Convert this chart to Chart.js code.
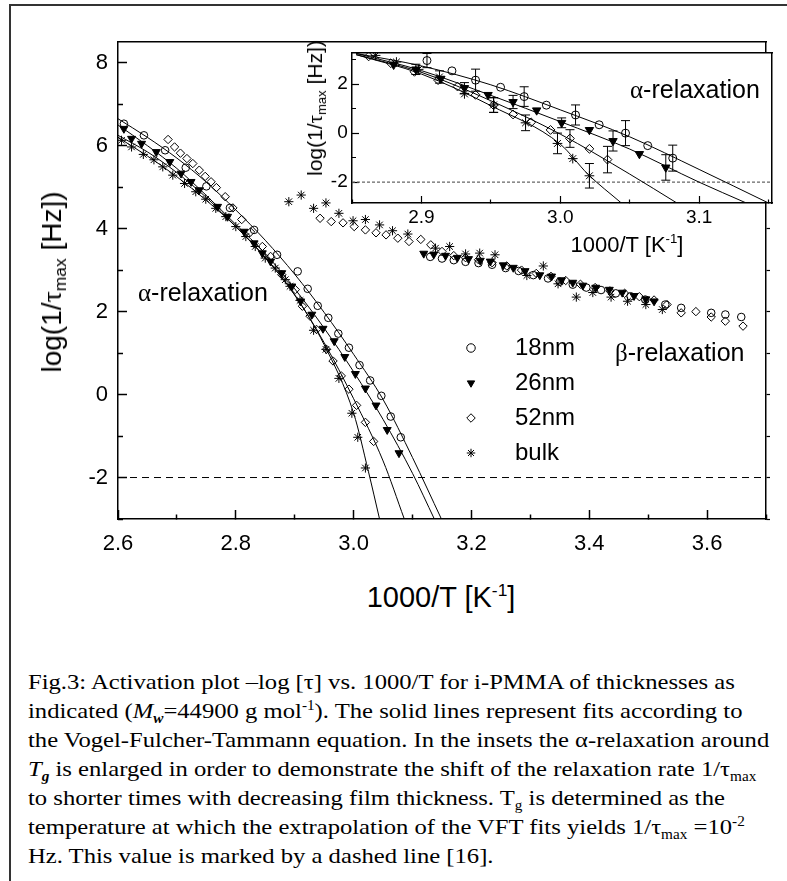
<!DOCTYPE html>
<html>
<head>
<meta charset="utf-8">
<script src="https://cdn.jsdelivr.net/npm/chart.js@4/dist/chart.umd.min.js"></script>
<style>
  body { margin: 0; background: #fff; width: 787px; height: 881px; position: relative; overflow: hidden;
         font-family: "Liberation Sans", Arial, sans-serif; color: #000; }
  .frame { position: absolute; left: 9px; top: 4px; width: 2000px; height: 2000px; border: 2px solid #333; }
  canvas { position: absolute; }
  #mainChart { left: 0; top: 0; z-index: 1; }
  #insetChart { left: 280px; top: 30px; z-index: 2; }
  #legendChart { left: 448px; top: 325px; z-index: 3; }
  .lbl { position: absolute; white-space: nowrap; line-height: 1; z-index: 4; }
  .rot { transform: translate(-50%, -50%) rotate(-90deg); }
  .ctr { transform: translate(-50%, -50%); }
  .gr { font-family: "Liberation Serif", "Times New Roman", serif; }
  .sb { font-size: 0.62em; position: relative; top: 0.3em; }
  .sp { font-size: 0.6em; position: relative; top: -0.65em; }
  .caption { position: absolute; left: 28px; top: 667px; z-index: 4; transform: scaleX(1.12); transform-origin: 0 0;
             font-family: "Liberation Serif", "Times New Roman", serif; font-size: 22px; line-height: 29px; }
  .caption div { white-space: nowrap; }
  .caption sub, .caption sup { font-size: 0.62em; line-height: 0; }
</style>
</head>
<body>
<div class="frame"></div>
<canvas id="mainChart" width="787" height="560"></canvas>
<canvas id="insetChart" width="507" height="240"></canvas>
<canvas id="legendChart" width="300" height="180"></canvas>

<div class="lbl rot" style="left:52px; top:282px; font-size:28px;">log(1/<span class="gr">τ</span><span class="sb">max</span> [Hz])</div>
<div class="lbl ctr" style="left:441px; top:597px; font-size:29px;">1000/T [K<span class="sp">-1</span>]</div>
<div class="lbl rot" style="left:315px; top:108px; font-size:21px;">log(1/<span class="gr">τ</span><span class="sb">max</span> [Hz])</div>
<div class="lbl ctr" style="left:627px; top:245px; font-size:22px;">1000/T [K<span class="sp">-1</span>]</div>
<div class="lbl" style="left:138px; top:280px; font-size:25px;"><span class="gr">α</span>-relaxation</div>
<div class="lbl" style="left:615px; top:340px; font-size:25px;"><span class="gr">β</span>-relaxation</div>
<div class="lbl" style="left:630px; top:77px; font-size:25px;"><span class="gr">α</span>-relaxation</div>

<div class="caption">
  <div>Fig.3: Activation plot –log [τ] vs. 1000/T for i-PMMA of thicknesses as</div>
  <div>indicated (<i>M<sub><b>w</b></sub></i>=44900 g mol<sup>-1</sup>). The solid lines represent fits according to</div>
  <div>the Vogel-Fulcher-Tammann equation. In the insets the α-relaxation around</div>
  <div><i>T<sub><b>g</b></sub></i> is enlarged in order to demonstrate the shift of the relaxation rate 1/τ<sub>max</sub></div>
  <div>to shorter times with decreasing film thickness. T<sub>g</sub> is determined as the</div>
  <div>temperature at which the extrapolation of the VFT fits yields 1/τ<sub>max</sub> =10<sup>-2</sup></div>
  <div>Hz. This value is marked by a dashed line [16].</div>
</div>

<script>
// ---------------------------------------------------------------- DATA ----------------------------------------------------------------
const xMin = 2.6, xMax = 3.7, yMin = -3, yMax = 8.5;
const inXMin = 2.85, inXMax = 3.1525, inYMin = -2.85, inYMax = 3.28;
const tgLevel = -2;
const sampleNames = ['18nm', '26nm', '52nm', 'bulk'];

// alpha-relaxation, main plot
const alpha18X = [2.610, 2.644, 2.680, 2.715, 2.750, 2.790, 2.831, 2.870, 2.905, 2.922, 2.939, 2.957, 2.974, 2.992, 3.010, 3.028, 3.047, 3.063, 3.080];
const alpha18Y = [6.53, 6.25, 5.89, 5.47, 5.02, 4.50, 3.97, 3.37, 2.97, 2.55, 2.14, 1.85, 1.47, 1.13, 0.71, 0.34, -0.03, -0.53, -1.03];
const alpha26X = [2.610, 2.623, 2.640, 2.665, 2.688, 2.707, 2.724, 2.738, 2.769, 2.786, 2.814, 2.831, 2.845, 2.859, 2.878, 2.895, 2.910, 2.929, 2.948, 2.967, 2.985, 3.003, 3.020, 3.038, 3.057, 3.077];
const alpha26Y = [6.41, 6.17, 6.05, 5.85, 5.61, 5.33, 5.13, 4.93, 4.53, 4.29, 3.93, 3.65, 3.41, 3.21, 2.93, 2.61, 2.25, 1.93, 1.59, 1.29, 0.91, 0.50, 0.15, -0.26, -0.85, -1.41];
const alpha52X = [2.685, 2.696, 2.706, 2.717, 2.727, 2.738, 2.748, 2.758, 2.767, 2.782, 2.795, 2.810, 2.825, 2.845, 2.859, 2.878, 2.901, 2.913, 2.926, 2.937, 2.954, 2.965, 2.979, 2.992, 3.005, 3.020, 3.034];
const alpha52Y = [6.15, 5.97, 5.82, 5.69, 5.57, 5.41, 5.26, 5.13, 4.99, 4.77, 4.50, 4.22, 3.92, 3.57, 3.33, 2.89, 2.53, 2.13, 1.89, 1.57, 1.09, 0.81, 0.45, 0.13, -0.26, -0.67, -1.13];
const alphaBulkX = [2.606, 2.623, 2.643, 2.661, 2.676, 2.693, 2.713, 2.732, 2.749, 2.766, 2.783, 2.800, 2.817, 2.833, 2.850, 2.867, 2.884, 2.892, 2.909, 2.932, 2.953, 2.975, 2.997, 3.007, 3.020];
const alphaBulkY = [6.13, 5.97, 5.79, 5.66, 5.49, 5.29, 5.09, 4.89, 4.71, 4.49, 4.29, 4.05, 3.81, 3.57, 3.29, 3.05, 2.77, 2.61, 2.27, 1.55, 1.09, 0.39, -0.45, -1.03, -1.77];

// beta-relaxation, main plot
const beta18X = [3.130, 3.150, 3.170, 3.190, 3.212, 3.235, 3.258, 3.280, 3.305, 3.330, 3.350, 3.372, 3.395, 3.420, 3.445, 3.470, 3.495, 3.529, 3.556, 3.607, 3.631, 3.658];
const beta18Y = [3.32, 3.28, 3.24, 3.20, 3.17, 3.13, 3.05, 2.98, 2.88, 2.80, 2.72, 2.65, 2.58, 2.52, 2.44, 2.37, 2.29, 2.17, 2.09, 1.97, 1.93, 1.87];
const beta26X = [3.119, 3.136, 3.156, 3.176, 3.195, 3.215, 3.232, 3.254, 3.271, 3.291, 3.316, 3.336, 3.353, 3.372, 3.389, 3.411, 3.434, 3.456, 3.476, 3.496, 3.510];
const beta26Y = [3.40, 3.38, 3.35, 3.30, 3.27, 3.23, 3.21, 3.12, 3.06, 2.98, 2.88, 2.85, 2.76, 2.70, 2.63, 2.58, 2.53, 2.46, 2.38, 2.30, 2.25];
const beta52X = [2.943, 2.962, 2.982, 3.001, 3.020, 3.038, 3.055, 3.075, 3.094, 3.114, 3.131, 3.150, 3.170, 3.190, 3.212, 3.235, 3.260, 3.285, 3.310, 3.335, 3.360, 3.385, 3.410, 3.435, 3.460, 3.485, 3.510, 3.532, 3.556, 3.581, 3.607, 3.631, 3.661];
const beta52Y = [4.25, 4.17, 4.14, 4.05, 3.97, 3.90, 3.85, 3.77, 3.69, 3.74, 3.61, 3.45, 3.35, 3.30, 3.25, 3.18, 3.10, 3.00, 2.92, 2.85, 2.75, 2.66, 2.58, 2.50, 2.44, 2.36, 2.28, 2.17, 1.97, 2.00, 1.87, 1.77, 1.65];
const betaBulkX = [2.890, 2.911, 2.932, 2.953, 2.975, 2.999, 3.020, 3.044, 3.066, 3.092, 3.139, 3.163, 3.190, 3.214, 3.240, 3.294, 3.322, 3.347, 3.378, 3.406, 3.437, 3.465, 3.496, 3.524];
const betaBulkY = [4.65, 4.81, 4.49, 4.62, 4.37, 4.19, 4.22, 4.09, 3.95, 3.87, 3.53, 3.57, 3.39, 3.41, 3.37, 2.87, 3.10, 2.67, 2.35, 2.46, 2.35, 2.25, 2.17, 2.05];

// VFT fit curves, main plot
const fit18X = [2.60, 2.65, 2.70, 2.75, 2.80, 2.85, 2.90, 2.95, 3.00, 3.05, 3.10, 3.149];
const fit18Y = [6.65, 6.20, 5.70, 5.12, 4.45, 3.72, 2.90, 1.98, 0.97, -0.12, -1.52, -3.00];
const fit26X = [2.60, 2.65, 2.70, 2.75, 2.80, 2.85, 2.90, 2.95, 3.00, 3.05, 3.10, 3.137];
const fit26Y = [6.50, 6.00, 5.45, 4.80, 4.10, 3.40, 2.55, 1.60, 0.55, -0.60, -1.90, -3.00];
const fit52X = [2.60, 2.65, 2.70, 2.75, 2.80, 2.85, 2.90, 2.95, 3.00, 3.05, 3.086];
const fit52Y = [6.25, 5.85, 5.35, 4.75, 4.05, 3.30, 2.40, 1.25, -0.10, -1.60, -3.00];
const fitBulkX = [2.60, 2.65, 2.70, 2.75, 2.80, 2.85, 2.90, 2.95, 3.00, 3.025, 3.044];
const fitBulkY = [6.20, 5.75, 5.25, 4.68, 4.05, 3.30, 2.40, 1.20, -0.45, -1.85, -3.00];

// inset: points, error bars (0 = no bar) and fits
const in18X = [2.904, 2.922, 2.939, 2.957, 2.974, 2.990, 3.011, 3.028, 3.047, 3.063, 3.081];
const in18Y = [2.96, 2.54, 2.16, 1.87, 1.49, 1.14, 0.74, 0.34, 0.00, -0.51, -1.02];
const in18E = [0.29, 0, 0.45, 0, 0.40, 0, 0.41, 0, 0.51, 0, 0.53];
const in26X = [2.880, 2.896, 2.914, 2.931, 2.948, 2.966, 2.983, 3.001, 3.021, 3.038, 3.057, 3.076];
const in26Y = [2.79, 2.60, 2.22, 1.84, 1.56, 1.27, 0.93, 0.42, 0.13, -0.32, -0.85, -1.40];
const in26E = [0, 0.21, 0, 0.22, 0, 0.27, 0, 0.20, 0, 0.41, 0, 0.52];
const in52X = [2.862, 2.878, 2.895, 2.912, 2.926, 2.939, 2.952, 2.966, 2.979, 2.993, 3.007, 3.021, 3.034];
const in52Y = [3.13, 2.85, 2.50, 2.16, 1.90, 1.56, 1.14, 0.76, 0.44, 0.13, -0.22, -0.64, -1.08];
const in52E = [0, 0, 0, 0, 0, 0, 0.30, 0, 0, 0, 0.36, 0, 0.54];
const inBulkX = [2.867, 2.882, 2.898, 2.913, 2.931, 2.952, 2.975, 2.998, 3.009, 3.021];
const inBulkY = [3.17, 2.90, 2.60, 2.29, 1.60, 1.15, 0.42, -0.42, -1.04, -1.74];
const inBulkE = [0, 0, 0, 0.25, 0, 0.30, 0.32, 0.42, 0, 0.50];

const inFit18X = [2.853, 2.90, 2.95, 3.00, 3.05, 3.10, 3.150];
const inFit18Y = [3.25, 2.74, 1.97, 0.95, -0.15, -1.48, -2.85];
const inFit26X = [2.853, 2.90, 2.95, 3.00, 3.05, 3.10, 3.134];
const inFit26Y = [3.25, 2.55, 1.54, 0.47, -0.65, -2.00, -2.85];
const inFit52X = [2.853, 2.90, 2.95, 3.00, 3.05, 3.084];
const inFit52Y = [3.20, 2.48, 1.32, -0.04, -1.67, -2.85];
const inFitBulkX = [2.853, 2.90, 2.95, 3.00, 3.02, 3.044];
const inFitBulkY = [3.20, 2.41, 1.12, -0.45, -1.68, -2.85];

// ---------------------------------------------------------------- HELPERS ----------------------------------------------------------------
Chart.defaults.font.family = '"Liberation Sans", Arial, sans-serif';
Chart.defaults.color = '#000';

function pts(xs, ys) { return xs.map((x, i) => ({x: x, y: ys[i]})); }
function errPts(xs, ys, es) {
    const out = [];
    xs.forEach((x, i) => {
        if (!es[i]) return;
        out.push({x: x, y: ys[i] - es[i]}, {x: x, y: ys[i] + es[i]}, {x: x, y: null});
    });
    return out;
}
const isMajorX = v => Math.round(v * 10) % 2 === 0;
const isMajorInX = v => Math.round(v * 20) % 2 === 0;
const isMajorY = v => Math.abs(Math.round(v)) % 2 === 0;

const none = 'rgba(0,0,0,0)';
function markerStyle(name, scale) {
    const s = scale || 1;
    if (name === '18nm') return {pointStyle: 'circle', pointRadius: 3.8 * s, pointBackgroundColor: none};
    if (name === '26nm') return {pointStyle: 'triangle', pointRotation: 180, pointRadius: 4.6 * s, pointBackgroundColor: '#000'};
    if (name === '52nm') return {pointStyle: 'rectRot', pointRadius: 4.2 * s, pointBackgroundColor: none};
    return {pointStyle: 'star', pointRadius: 4.6 * s, pointBackgroundColor: none};
}
function pointSet(name, data, scale) {
    return Object.assign({label: name, data: data, showLine: false, pointBorderColor: '#000', pointBorderWidth: 1}, markerStyle(name, scale));
}
function lineSet(data, extra) {
    return Object.assign({data: data, showLine: true, pointRadius: 0, borderColor: '#000', borderWidth: 1,
                          cubicInterpolationMode: 'monotone'}, extra || {});
}

// ---------------------------------------------------------------- MAIN CHART ----------------------------------------------------------------
const mainChart = new Chart(document.getElementById('mainChart'), {
    type: 'scatter',
    data: {
        datasets: [
            pointSet('18nm', pts(alpha18X, alpha18Y).concat(pts(beta18X, beta18Y))),
            pointSet('26nm', pts(alpha26X, alpha26Y).concat(pts(beta26X, beta26Y))),
            pointSet('52nm', pts(alpha52X, alpha52Y).concat(pts(beta52X, beta52Y))),
            pointSet('bulk', pts(alphaBulkX, alphaBulkY).concat(pts(betaBulkX, betaBulkY))),
            lineSet(pts(fit18X, fit18Y)),
            lineSet(pts(fit26X, fit26Y)),
            lineSet(pts(fit52X, fit52Y)),
            lineSet(pts(fitBulkX, fitBulkY)),
            lineSet([{x: xMin, y: tgLevel}, {x: xMax, y: tgLevel}], {borderDash: [7, 5], cubicInterpolationMode: 'default'})
        ]
    },
    options: {
        responsive: false,
        animation: false,
        events: [],
        layout: {padding: {left: 0, top: 42, right: 0, bottom: 0}},
        plugins: {legend: {display: false}, tooltip: {enabled: false}},
        scales: {
            x: {
                type: 'linear', position: 'bottom', min: xMin, max: xMax,
                afterFit: s => { s.height = 41; },
                border: {color: '#000', width: 1.5},
                grid: {drawOnChartArea: false, tickLength: -9, tickWidth: 1.5, tickColor: '#000',
                       tickBorderDash: c => (c.tick && !isMajorX(c.tick.value)) ? [5, 20] : []},
                ticks: {stepSize: 0.1, includeBounds: false, autoSkip: false, maxRotation: 0, padding: 21,
                        font: {size: 22}, callback: v => isMajorX(v) ? v.toFixed(1) : ''}
            },
            x2: {
                type: 'linear', position: 'top', min: xMin, max: xMax,
                afterFit: s => { s.height = 0; },
                border: {color: '#000', width: 1.5},
                grid: {display: false}, ticks: {display: false}
            },
            y: {
                type: 'linear', position: 'left', min: yMin, max: yMax,
                afterFit: s => { s.width = 118; },
                border: {color: '#000', width: 1.5},
                grid: {drawOnChartArea: false, tickLength: -9, tickWidth: 1.5, tickColor: '#000',
                       tickBorderDash: c => (c.tick && !isMajorY(c.tick.value)) ? [0, 4, 5, 20] : []},
                ticks: {stepSize: 1, includeBounds: false, autoSkip: false, padding: 19,
                        font: {size: 22}, callback: v => isMajorY(v) ? String(v) : ''}
            },
            y2: {
                type: 'linear', position: 'right', min: yMin, max: yMax,
                afterFit: s => { s.width = 15; },
                border: {color: '#000', width: 1.5},
                grid: {drawOnChartArea: false, tickLength: 4, tickWidth: 1.2, tickColor: '#000'},
                ticks: {stepSize: 1, includeBounds: false, display: false}
            }
        }
    }
});

// ---------------------------------------------------------------- INSET ----------------------------------------------------------------
const insetBackground = {
    id: 'insetBackground',
    beforeDraw(chart) {
        const {ctx, chartArea: a} = chart;
        ctx.save();
        ctx.fillStyle = '#fff';
        ctx.fillRect(a.left, a.top, a.right - a.left, a.bottom - a.top);
        ctx.restore();
    }
};

const errStyle = {showLine: true, borderColor: '#000', borderWidth: 1, pointStyle: 'line', pointRadius: 4.5,
                  pointBorderColor: '#000', pointBorderWidth: 1, spanGaps: false};

const insetChart = new Chart(document.getElementById('insetChart'), {
    type: 'scatter',
    data: {
        datasets: [
            pointSet('18nm', pts(in18X, in18Y), 1.05),
            pointSet('26nm', pts(in26X, in26Y), 1.05),
            pointSet('52nm', pts(in52X, in52Y), 1.05),
            pointSet('bulk', pts(inBulkX, inBulkY), 1.05),
            Object.assign({data: errPts(in18X, in18Y, in18E)}, errStyle),
            Object.assign({data: errPts(in26X, in26Y, in26E)}, errStyle),
            Object.assign({data: errPts(in52X, in52Y, in52E)}, errStyle),
            Object.assign({data: errPts(inBulkX, inBulkY, inBulkE)}, errStyle),
            lineSet(pts(inFit18X, inFit18Y)),
            lineSet(pts(inFit26X, inFit26Y)),
            lineSet(pts(inFit52X, inFit52Y)),
            lineSet(pts(inFitBulkX, inFitBulkY)),
            lineSet([{x: inXMin, y: tgLevel}, {x: inXMax, y: tgLevel}], {borderDash: [3, 2], borderColor: '#666', borderWidth: 1.2, cubicInterpolationMode: 'default'})
        ]
    },
    options: {
        responsive: false,
        animation: false,
        events: [],
        layout: {padding: {left: 0, top: 12, right: 0, bottom: 0}},
        plugins: {legend: {display: false}, tooltip: {enabled: false}},
        scales: {
            x: {
                type: 'linear', position: 'bottom', min: inXMin, max: inXMax,
                afterFit: s => { s.height = 67; },
                border: {color: '#000', width: 1.5},
                grid: {drawOnChartArea: false, tickLength: -7, tickWidth: 1.2, tickColor: '#000',
                       tickBorderDash: c => (c.tick && !isMajorInX(c.tick.value)) ? [4, 20] : []},
                ticks: {stepSize: 0.05, includeBounds: false, autoSkip: false, maxRotation: 0, padding: 10,
                        font: {size: 19}, callback: v => isMajorInX(v) ? v.toFixed(1) : ''}
            },
            x2: {
                type: 'linear', position: 'top', min: inXMin, max: inXMax,
                afterFit: s => { s.height = 0; },
                border: {color: '#000', width: 1.5},
                grid: {display: false}, ticks: {display: false}
            },
            y: {
                type: 'linear', position: 'left', min: inYMin, max: inYMax,
                afterFit: s => { s.width = 72; },
                border: {color: '#000', width: 1.5},
                grid: {drawOnChartArea: false, tickLength: -7, tickWidth: 1.2, tickColor: '#000',
                       tickBorderDash: c => (c.tick && !isMajorY(c.tick.value)) ? [0, 3, 4, 20] : []},
                ticks: {stepSize: 1, includeBounds: false, autoSkip: false, padding: 11.3,
                        font: {size: 19}, callback: v => isMajorY(v) ? String(v) : ''}
            },
            y2: {
                type: 'linear', position: 'right', min: inYMin, max: inYMax,
                afterFit: s => { s.width = 15; },
                border: {color: '#000', width: 1.5},
                grid: {display: false}, ticks: {display: false}
            }
        }
    },
    plugins: [insetBackground]
});

// ---------------------------------------------------------------- LEGEND ----------------------------------------------------------------
const legendChart = new Chart(document.getElementById('legendChart'), {
    type: 'scatter',
    data: {datasets: sampleNames.map(n => pointSet(n, []))},
    options: {
        responsive: false,
        animation: false,
        events: [],
        scales: {x: {display: false}, y: {display: false}},
        plugins: {
            tooltip: {enabled: false},
            legend: {
                position: 'left', align: 'start',
                labels: {
                    usePointStyle: true, boxHeight: 6, padding: 11, color: '#000',
                    font: {size: 24, lineHeight: 1},
                    generateLabels: chart => Chart.defaults.plugins.legend.labels.generateLabels(chart)
                        .map(l => Object.assign(l, {text: '   ' + l.text}))
                }
            }
        }
    }
});
</script>
</body>
</html>
